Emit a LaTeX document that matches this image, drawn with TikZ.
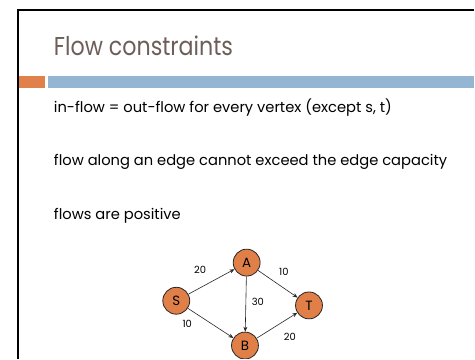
\documentclass[tikz,border=0pt]{standalone}
\usepackage{fontspec}
\setmainfont{Poppins}
\newfontfamily\titlefont[FakeStretch=0.86]{Poppins}
\usetikzlibrary{arrows.meta}
\definecolor{titlecol}{RGB}{110,94,88}
\definecolor{orangebar}{RGB}{224,128,74}
\definecolor{bluebar}{RGB}{148,182,210}
\definecolor{nodefill}{RGB}{224,128,72}
\tikzset{
  vertex/.style={circle, draw=black!85, line width=0.8pt, fill=nodefill, minimum size=27bp, inner sep=0pt, font=\fontsize{13.5}{14}\selectfont},
  edgearrow/.style={-{Stealth[length=5pt,width=4pt]}, line width=0.6pt, black!85},
  capacitylabel/.style={font=\fontsize{10}{10}\selectfont, inner sep=0pt},
  bodytext/.style={anchor=base west, inner sep=0pt, font=\fontsize{14.8}{15}\selectfont},
}
\begin{document}
\begin{tikzpicture}[x=1bp,y=-1bp]
\fill[white] (-1,-1) rectangle (476,360);
\useasboundingbox (0,0) rectangle (475,359);
% slide border
\draw[line width=2.5bp, line cap=butt] (17,359) -- (17,9) -- (475,9);
% bars
\fill[orangebar] (18.3,75) rectangle (44,87);
\fill[bluebar] (47,75) rectangle (475,87);
% title
\node[anchor=base west, inner sep=0pt, text=titlecol, font=\titlefont\fontsize{26}{26}\selectfont] (title) at (53,55) {Flow constraints};
% body
\node[bodytext] (l1) at (53,112) {in-flow = out-flow for every vertex (except s, t)};
\node[bodytext] (l2) at (53,165) {flow along an edge cannot exceed the edge capacity};
\node[bodytext] (l3) at (53,219) {flows are positive};
% graph
\begin{scope}
\clip (0,0) rectangle (475,359);
\node[vertex] (S) at (176,301) {S};
\node[vertex] (A) at (246.7,262.7) {A};
\node[vertex] (T) at (309.3,305.7) {T};
\node[vertex] (B) at (245,346) {B};
\draw[edgearrow] (S) -- (A);
\draw[edgearrow] (S) -- (B);
\draw[edgearrow] (A) -- (B);
\draw[edgearrow] (A) -- (T);
\draw[edgearrow] (B) -- (T);
\end{scope}
\node[capacitylabel] (c1) at (200,270) {20};
\node[capacitylabel] (c2) at (284,271.7) {10};
\node[capacitylabel] (c3) at (258,301.7) {30};
\node[capacitylabel] (c4) at (187,324) {10};
\node[capacitylabel] (c5) at (290,337.7) {20};
\end{tikzpicture}
\end{document}
